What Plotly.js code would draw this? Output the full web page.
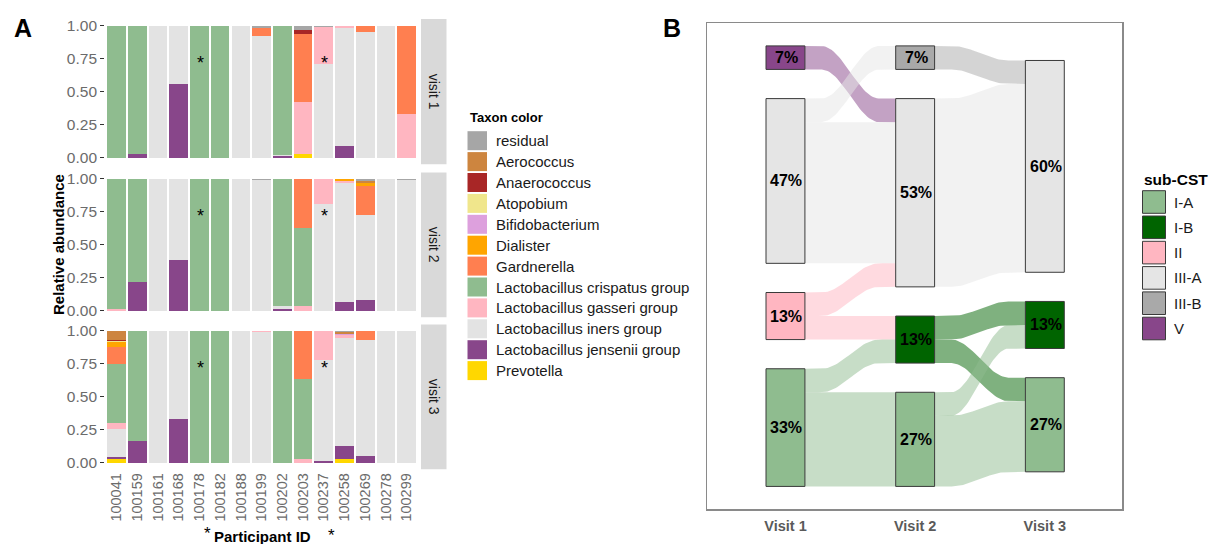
<!DOCTYPE html>
<html>
<head>
<meta charset="utf-8">
<script src="https://cdn.plot.ly/plotly-3.0.1.min.js"></script>
<style>
  html, body { margin: 0; padding: 0; background: #ffffff; }
  #chart { width: 1232px; height: 544px; }
</style>
</head>
<body>
<div id="chart"></div>
<script>
// ---------- Panel A: relative abundance per participant and visit ----------
const participants = ['100041','100159','100161','100168','100178','100182','100188','100199',
                      '100202','100203','100237','100258','100269','100278','100299'];
const facetLabels = ['visit 1', 'visit 2', 'visit 3'];
const markedParticipants = ['100178', '100237'];

const taxa = ['residual','Aerococcus','Anaerococcus','Atopobium','Bifidobacterium','Dialister',
              'Gardnerella','Lactobacillus crispatus group','Lactobacillus gasseri group',
              'Lactobacillus iners group','Lactobacillus jensenii group','Prevotella'];
const taxonColors = ['#A6A6A6','#CD853F','#A82626','#F0E68C','#DDA0DD','#FFA500',
                     '#FF7F50','#8FBC8F','#FFB6C1','#E3E3E3','#88468A','#FFD700'];

// one row per visit, one value per participant (same order as participants)
const residual = [
  [0,0,0,0,0,0,0,0.015,0,0.03,0.01,0,0,0,0],
  [0,0,0,0,0,0,0,0.01,0,0,0,0,0.012,0,0.01],
  [0,0,0,0,0,0,0,0,0,0,0,0.006,0,0,0]
];
const aerococcus = [
  [0,0,0,0,0,0,0,0,0,0,0,0,0,0,0],
  [0,0,0,0,0,0,0,0,0,0,0,0,0.02,0,0],
  [0.068,0,0,0,0,0,0,0,0,0,0,0.018,0,0,0]
];
const anaerococcus = [
  [0,0,0,0,0,0,0,0,0,0.035,0,0,0,0,0],
  [0,0,0,0,0,0,0,0,0,0,0,0,0,0,0],
  [0.008,0,0,0,0,0,0,0,0,0,0,0,0,0,0]
];
const atopobium = [
  [0,0,0,0,0,0,0,0,0,0,0,0,0,0,0],
  [0,0,0,0,0,0,0,0,0,0,0,0,0,0,0],
  [0.008,0,0,0,0,0,0,0,0,0,0,0,0,0,0]
];
const bifidobacterium = [
  [0,0,0,0,0,0,0,0,0,0,0,0,0,0,0],
  [0,0,0,0,0,0,0,0,0,0,0,0,0,0,0],
  [0,0,0,0,0,0,0,0,0,0,0,0.006,0,0,0]
];
const dialister = [
  [0,0,0,0,0,0,0,0,0,0,0,0,0,0,0],
  [0,0,0,0,0,0,0,0,0,0,0,0.015,0.025,0,0],
  [0.035,0,0,0,0,0,0,0,0,0,0,0,0,0,0]
];
const gardnerella = [
  [0,0,0,0,0,0,0,0.065,0,0.515,0,0,0.045,0,0.67],
  [0,0,0,0,0,0,0,0,0,0.375,0,0,0.216,0,0],
  [0.134,0,0,0,0,0,0,0,0,0.365,0,0,0.065,0,0]
];
const crispatus = [
  [1,0.97,0,0,1,1,0,0,0.98,0,0,0,0,0,0],
  [0.99,0.78,0,0,1,1,0,0,0.965,0.59,0,0,0,0,0],
  [0.443,0.835,0,0,1,1,0,0,1,0.605,0,0,0,0,0]
];
const gasseri = [
  [0,0,0,0,0,0,0,0,0,0.39,0.28,0.02,0,0,0.33],
  [0.01,0,0,0,0,0,0,0,0,0.035,0.19,0.013,0,0,0],
  [0.045,0,0,0,0,0,0,0.01,0,0.03,0.22,0.025,0,0,0]
];
const iners = [
  [0,0,1,0.44,0,0,1,0.92,0.01,0,0.71,0.895,0.955,1,0],
  [0,0,1,0.615,0,0,1,0.99,0.02,0,0.81,0.904,0.644,1,0.99],
  [0.219,0,1,0.67,0,0,1,0.99,0,0,0.77,0.815,0.885,1,1]
];
const jensenii = [
  [0,0.03,0,0.56,0,0,0,0,0.01,0,0,0.085,0,0,0],
  [0,0.22,0,0.385,0,0,0,0,0.015,0,0,0.068,0.083,0,0],
  [0.015,0.165,0,0.33,0,0,0,0,0,0,0.01,0.10,0.05,0,0]
];
const prevotella = [
  [0,0,0,0,0,0,0,0,0,0.03,0,0,0,0,0],
  [0,0,0,0,0,0,0,0,0,0,0,0,0,0,0],
  [0.025,0,0,0,0,0,0,0,0,0,0,0.03,0,0,0]
];
const taxonValues = [residual, aerococcus, anaerococcus, atopobium, bifidobacterium, dialister,
                     gardnerella, crispatus, gasseri, iners, jensenii, prevotella];

// ---------- Panel B: sub-CST transitions between visits ----------
const visitLabels = ['Visit 1', 'Visit 2', 'Visit 3'];
const subCST = ['I-A', 'I-B', 'II', 'III-A', 'III-B', 'V'];
const subCSTColors = ['#8FBC8F', '#006400', '#FFB6C1', '#E5E5E5', '#A9A9A9', '#88468A'];

const flow12From  = ['V', 'III-A', 'III-A', 'II', 'II', 'I-A', 'I-A'];
const flow12To    = ['III-A', 'III-B', 'III-A', 'III-A', 'I-B', 'I-B', 'I-A'];
const flow12Count = [1, 1, 6, 1, 1, 1, 4];

const flow23From  = ['III-B', 'III-A', 'I-B', 'I-B', 'I-A', 'I-A'];
const flow23To    = ['III-A', 'III-A', 'I-A', 'I-B', 'I-B', 'I-A'];
const flow23Count = [1, 8, 1, 1, 1, 3];

// ---------- helpers ----------
const W = 1232, H = 544;
const px = x => x / W;
const py = y => 1 - y / H;
const FONT = 'Liberation Sans, Arial, sans-serif';

const traces = [];
const shapes = [];
const annotations = [];
function note(opts) {
  annotations.push(Object.assign({ showarrow: false, xanchor: 'center', yanchor: 'middle' }, opts));
}

// ---------- Panel A traces ----------
const yAxisIds = ['y', 'y2', 'y3'];
for (let v = 0; v < 3; v++) {
  // Plotly stacks from the first trace upwards, so add the bottom taxon first
  for (let t = taxa.length - 1; t >= 0; t--) {
    traces.push({
      type: 'bar',
      x: participants,
      y: taxonValues[t][v],
      name: taxa[t],
      xaxis: 'x',
      yaxis: yAxisIds[v],
      marker: { color: taxonColors[t], line: { width: 0 } },
      showlegend: false,
      hoverinfo: 'x+y+name'
    });
  }
  // facet strip
  const yref = yAxisIds[v] + ' domain';
  shapes.push({
    type: 'rect', xref: 'paper', yref: yref,
    x0: px(421), x1: px(446.5), y0: 0, y1: 1,
    fillcolor: '#D9D9D9', line: { width: 0 }, layer: 'below'
  });
  note({
    xref: 'paper', yref: yref, x: px(434), y: 0.5,
    text: facetLabels[v], textangle: 90,
    font: { family: FONT, size: 14, color: '#1A1A1A' }
  });
  // marks on the highlighted participants
  markedParticipants.forEach(p => {
    note({
      xref: 'x', yref: yAxisIds[v], x: participants.indexOf(p), y: 0.75, yshift: -4, xshift: 1,
      text: '*',
      font: { family: FONT, size: 18, color: '#000000' }
    });
  });
}

// marks below the participant axis
markedParticipants.forEach((p, i) => {
  note({
    xref: 'x', yref: 'paper', x: participants.indexOf(p), y: py(i === 0 ? 533 : 535), xshift: 8,
    text: '*',
    font: { family: FONT, size: 17, color: '#000000' }
  });
});

// ---------- Panel B: alluvial layout ----------
const topDown = subCST.slice().reverse();          // V at the top, I-A at the bottom
const rank = s => topDown.indexOf(s);
const STRATUM_GAP = 1.24;
const BOX_W = 0.3;

function countBy(keys, counts) {
  const c = {};
  keys.forEach((k, i) => { c[k] = (c[k] || 0) + counts[i]; });
  return c;
}
function stackColumn(counts) {
  const present = topDown.filter(s => counts[s] > 0);
  const n = present.reduce((a, s) => a + counts[s], 0);
  const total = n + STRATUM_GAP * (present.length - 1);
  let cur = total / 2;
  const pos = {};
  present.forEach(s => {
    pos[s] = { top: cur, bot: cur - counts[s], n: counts[s] };
    cur -= counts[s] + STRATUM_GAP;
  });
  return { pos, n };
}
const columns = [
  stackColumn(countBy(flow12From, flow12Count)),
  stackColumn(countBy(flow12To, flow12Count)),
  stackColumn(countBy(flow23To, flow23Count))
];

function ease(t) {
  const a = 0.18;
  if (t <= a) return 0;
  if (t >= 1 - a) return 1;
  const u = (t - a) / (1 - 2 * a);
  return (1 - Math.cos(Math.PI * u)) / 2;
}
function hexToRgba(hex, alpha) {
  const v = parseInt(hex.slice(1), 16);
  return `rgba(${(v >> 16) & 255},${(v >> 8) & 255},${v & 255},${alpha})`;
}

function addFlows(from, to, count, left, right, colIndex) {
  const idx = from.map((_, i) => i);
  const lodes = {};
  const curL = {}; Object.keys(left.pos).forEach(s => { curL[s] = left.pos[s].top; });
  idx.slice().sort((a, b) => rank(from[a]) - rank(from[b]) || rank(to[a]) - rank(to[b]))
    .forEach(i => { const t = curL[from[i]]; lodes[i] = { l0: t, l1: t - count[i] }; curL[from[i]] = t - count[i]; });
  const curR = {}; Object.keys(right.pos).forEach(s => { curR[s] = right.pos[s].top; });
  idx.slice().sort((a, b) => rank(to[a]) - rank(to[b]) || rank(from[a]) - rank(from[b]))
    .forEach(i => { const t = curR[to[i]]; lodes[i].r0 = t; lodes[i].r1 = t - count[i]; curR[to[i]] = t - count[i]; });

  const xa = colIndex + 1 + BOX_W / 2;
  const xb = colIndex + 2 - BOX_W / 2;
  const N = 48;
  idx.forEach(i => {
    const L = lodes[i];
    const xs = [], ys = [];
    for (let k = 0; k <= N; k++) {
      const t = k / N;
      xs.push(xa + (xb - xa) * t);
      ys.push(L.l0 + (L.r0 - L.l0) * ease(t));
    }
    for (let k = N; k >= 0; k--) {
      const t = k / N;
      xs.push(xa + (xb - xa) * t);
      ys.push(L.l1 + (L.r1 - L.l1) * ease(t));
    }
    traces.push({
      type: 'scatter', mode: 'lines', x: xs, y: ys,
      xaxis: 'x2', yaxis: 'y4', fill: 'toself',
      fillcolor: hexToRgba(subCSTColors[subCST.indexOf(from[i])], 0.5),
      line: { width: 0 }, showlegend: false,
      name: from[i] + ' → ' + to[i], hoverinfo: 'name'
    });
  });
}
addFlows(flow12From, flow12To, flow12Count, columns[0], columns[1], 0);
addFlows(flow23From, flow23To, flow23Count, columns[1], columns[2], 1);

// strata boxes and their percentages
columns.forEach((col, c) => {
  Object.keys(col.pos).forEach(s => {
    const p = col.pos[s];
    shapes.push({
      type: 'rect', xref: 'x2', yref: 'y4',
      x0: c + 1 - BOX_W / 2, x1: c + 1 + BOX_W / 2, y0: p.bot, y1: p.top,
      fillcolor: subCSTColors[subCST.indexOf(s)],
      line: { color: '#3A3A3A', width: 1 }, layer: 'above'
    });
    note({
      xref: 'x2', yref: 'y4', x: c + 1, y: (p.top + p.bot) / 2, xshift: 1,
      text: '<b>' + Math.round(p.n / col.n * 100) + '%</b>',
      font: { family: FONT, size: 16, color: '#000000' }
    });
  });
});

// ---------- legends ----------
note({
  xref: 'paper', yref: 'paper', x: px(468), y: py(117), xanchor: 'left',
  text: '<b>Taxon color</b>',
  font: { family: FONT, size: 13, color: '#000000' }
});
taxa.forEach((t, i) => {
  const cy = 140.7 + i * 20.9;
  shapes.push({
    type: 'rect', xref: 'paper', yref: 'paper',
    x0: px(467.5), x1: px(487), y0: py(cy + 9.5), y1: py(cy - 9.5),
    fillcolor: taxonColors[i], line: { width: 0 }
  });
  note({
    xref: 'paper', yref: 'paper', x: px(494), y: py(cy), xanchor: 'left',
    text: t,
    font: { family: FONT, size: 15, color: '#1A1A1A' }
  });
});

note({
  xref: 'paper', yref: 'paper', x: px(1142), y: py(179), xanchor: 'left',
  text: '<b>sub-CST</b>',
  font: { family: FONT, size: 15.5, color: '#000000' }
});
subCST.forEach((s, i) => {
  const cy = 202 + i * 25.3;
  shapes.push({
    type: 'rect', xref: 'paper', yref: 'paper',
    x0: px(1142.5), x1: px(1165.5), y0: py(cy + 11.3), y1: py(cy - 11.3),
    fillcolor: subCSTColors[i], line: { color: '#3A3A3A', width: 1 }
  });
  note({
    xref: 'paper', yref: 'paper', x: px(1172), y: py(cy), xanchor: 'left',
    text: s,
    font: { family: FONT, size: 15, color: '#1A1A1A' }
  });
});

// ---------- titles ----------
note({
  xref: 'paper', yref: 'paper', x: px(58), y: py(245),
  text: '<b>Relative abundance</b>', textangle: -90,
  font: { family: FONT, size: 15, color: '#000000' }
});
note({
  xref: 'paper', yref: 'paper', x: px(262), y: py(536),
  text: '<b>Participant ID</b>',
  font: { family: FONT, size: 15, color: '#000000' }
});
note({
  xref: 'paper', yref: 'paper', x: px(23), y: py(28),
  text: '<b>A</b>',
  font: { family: FONT, size: 25, color: '#000000' }
});
note({
  xref: 'paper', yref: 'paper', x: px(672), y: py(28),
  text: '<b>B</b>',
  font: { family: FONT, size: 25, color: '#000000' }
});

// ---------- axes ----------
const facetDomains = [
  [py(164.3), py(19.1)],
  [py(317.3), py(172.4)],
  [py(469.3), py(324.4)]
];
const yFacet = d => ({
  domain: d, range: [-0.05, 1.05], anchor: 'x',
  tickvals: [0, 0.25, 0.5, 0.75, 1], tickformat: '.2f',
  ticks: 'outside', ticklen: 4, tickwidth: 1, tickcolor: '#333333',
  tickfont: { family: FONT, size: 15.5, color: '#6B6B6B' },
  showgrid: false, zeroline: false, showline: false, fixedrange: true
});

const layout = {
  width: W, height: H,
  margin: { l: 0, r: 0, t: 0, b: 0 },
  paper_bgcolor: '#ffffff', plot_bgcolor: 'rgba(0,0,0,0)',
  barmode: 'stack', bargap: 0.1,
  showlegend: false,
  xaxis: {
    domain: [px(105.1), px(418.1)], anchor: 'y3',
    type: 'category', categoryorder: 'array', categoryarray: participants,
    range: [-0.55, 14.55], tickangle: -90,
    tickfont: { family: FONT, size: 14.5, color: '#6B6B6B' },
    ticks: '', showgrid: false, zeroline: false, showline: false, fixedrange: true
  },
  yaxis: yFacet(facetDomains[0]),
  yaxis2: yFacet(facetDomains[1]),
  yaxis3: yFacet(facetDomains[2]),
  xaxis2: {
    domain: [px(707), px(1122)], anchor: 'y4',
    range: [0.395, 3.595],
    tickvals: [1, 2, 3], ticktext: visitLabels.map(v => '<b>' + v + '</b>'),
    ticks: '', ticklabelstandoff: 3,
    tickfont: { family: FONT, size: 14.5, color: '#5A5A5A' },
    showgrid: false, zeroline: false,
    showline: true, mirror: true, linecolor: '#8A8A8A', linewidth: 1.5, fixedrange: true
  },
  yaxis4: {
    domain: [py(509), py(23.3)], anchor: 'x2',
    range: [-10.32, 10.32],
    showticklabels: false, ticks: '', showgrid: false, zeroline: false,
    showline: true, mirror: true, linecolor: '#8A8A8A', linewidth: 1.5, fixedrange: true
  },
  shapes: shapes,
  annotations: annotations
};

Plotly.newPlot('chart', traces, layout, { displayModeBar: false, staticPlot: true });
</script>
</body>
</html>
